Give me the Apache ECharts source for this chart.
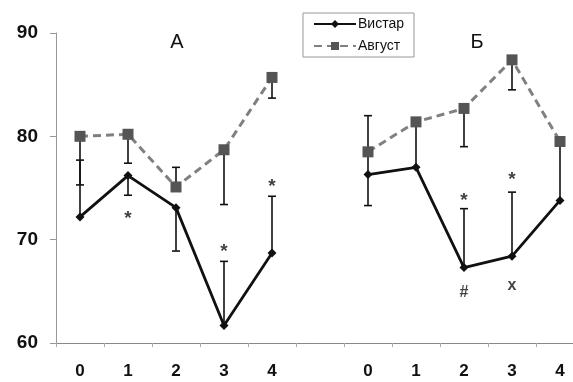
<!DOCTYPE html>
<html><head><meta charset="utf-8">
<script src="https://cdn.jsdelivr.net/npm/echarts@6/dist/echarts.min.js"></script>
<style>html,body{margin:0;padding:0;background:#fff;overflow:hidden;width:573px;height:382px}#c{width:584px;height:382px}</style>
</head><body><div id="c"></div>
<script>
const categories = ['0','1','2','3','4','','0','1','2','3','4'];
const wistar = [72.2, 76.2, 73.1, 61.7, 68.7, null, 76.3, 77.0, 67.3, 68.4, 73.8];
const august = [80.0, 80.2, 75.1, 78.7, 85.7, null, 78.5, 81.4, 82.7, 87.4, 79.5];
const wistarErrLow  = [null, 74.3, 68.9, null, null, null, 73.3, null, null, null, null];
const wistarErrHigh = [77.7, null, null, 67.9, 74.2, null, 78.5, 81.4, 73.0, 74.6, 79.5];
const augustErrLow  = [75.3, 77.4, null, 73.4, 83.7, null, null, null, 79.0, 84.5, null];
const augustErrHigh = [null, null, 77.0, null, null, null, 82.0, null, null, null, null];
const marks = [[1,72.0,'*'],[3,68.8,'*'],[4,75.1,'*'],[8,73.8,'*'],[8,64.9,'#'],[9,75.8,'*'],[9,65.6,'x']];
const panelTitles = ['А','Б'];
const yTicks = [60,70,80,90];

const errData = [];
function addErr(vals, bounds){
  bounds.forEach((b,i)=>{ if(b!=null && vals[i]!=null) errData.push([i, vals[i], b]); });
}
addErr(wistar, wistarErrLow); addErr(wistar, wistarErrHigh);
addErr(august, augustErrLow); addErr(august, augustErrHigh);

const chart = echarts.init(document.getElementById('c'));
chart.setOption({
  animation:false,
  textStyle:{fontFamily:'Liberation Sans, Arial, sans-serif'},
  grid:{left:56, top:33, bottom:39, right:0, containLabel:false},
  graphic:[
    {type:'text', x:177, y:42, style:{text:panelTitles[0], x:0, y:0, align:'center', verticalAlign:'middle', font:'20px "Liberation Sans"', fill:'#111'}},
    {type:'text', x:477, y:42, style:{text:panelTitles[1], x:0, y:0, align:'center', verticalAlign:'middle', font:'20px "Liberation Sans"', fill:'#111'}}
  ],
  legend:{
    left:303, top:13, orient:'vertical', itemWidth:42, itemHeight:10, itemGap:8,
    padding:[4,10,4,10], borderColor:'#999', borderWidth:1,
    textStyle:{fontSize:14, color:'#111', fontFamily:'Liberation Sans', padding:[0,0,0,-3]},
    data:['Вистар','Август']
  },
  xAxis:{
    type:'category', data:categories, boundaryGap:true,
    axisLine:{lineStyle:{color:'#888', width:1}},
    axisTick:{show:true, interval:0, length:4, lineStyle:{color:'#aaa'}},
    axisLabel:{interval:0, margin:20, fontSize:17, fontWeight:'bold', color:'#111'}
  },
  yAxis:{
    type:'value', min:60, max:90, interval:10,
    axisLine:{show:true, lineStyle:{color:'#999', width:1}},
    axisTick:{show:true, length:6, lineStyle:{color:'#999'}},
    splitLine:{show:false},
    axisLabel:{margin:18, fontSize:19, fontWeight:'bold', color:'#111',
      formatter:v=>yTicks.includes(v)?String(v):''}
  },
  series:[
    {type:'custom', name:'err', silent:true, z:1, data:errData,
      renderItem:(params, api)=>{
        const p1 = api.coord([api.value(0), api.value(1)]);
        const p2 = api.coord([api.value(0), api.value(2)]);
        const w = 4;
        return {type:'group', children:[
          {type:'line', shape:{x1:p1[0], y1:p1[1], x2:p2[0], y2:p2[1]}, style:{stroke:'#111', lineWidth:1.6}},
          {type:'line', shape:{x1:p2[0]-w, y1:p2[1], x2:p2[0]+w, y2:p2[1]}, style:{stroke:'#111', lineWidth:1.6}}
        ]};
      }},
    {type:'line', name:'Август', data:august, z:3, connectNulls:false,
      symbol:'rect', symbolSize:11,
      itemStyle:{color:'#555'},
      lineStyle:{color:'#808080', width:3, type:[8,5]}},
    {type:'line', name:'Вистар', data:wistar, z:4, connectNulls:false,
      symbol:'diamond', symbolSize:9,
      itemStyle:{color:'#111'},
      lineStyle:{color:'#111', width:2.8}},
    {type:'scatter', name:'marks', silent:true, z:5, symbolSize:1,
      itemStyle:{color:'rgba(0,0,0,0)'},
      data:marks.map(m=>({value:[m[0],m[1]], label:{formatter:m[2], fontSize:m[2]==='*'?19:16}})),
      label:{show:true, position:'inside', fontSize:16, fontWeight:'bold', color:'#111'}}
  ]
});
</script></body></html>
